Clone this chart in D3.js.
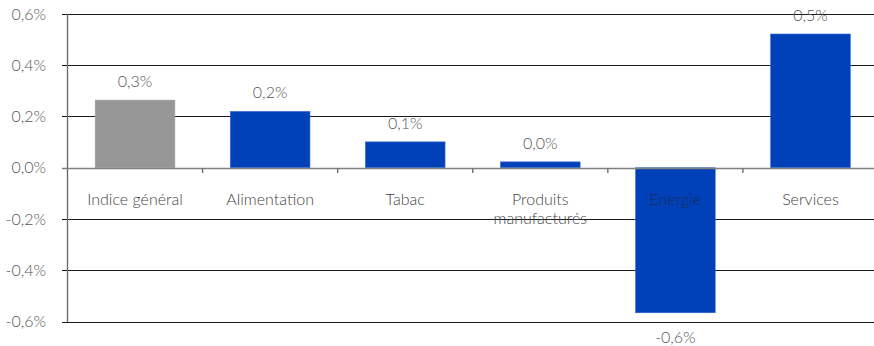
<!DOCTYPE html>
<html>
<head>
<meta charset="utf-8">
<script src="https://cdn.jsdelivr.net/npm/d3@7/dist/d3.min.js"></script>
<style>
  body { margin: 0; background: #fff; }
  svg text { font-family: "Lato", "DejaVu Sans", sans-serif; font-weight: 300; }
</style>
</head>
<body>
<svg id="chart" width="874" height="346"></svg>
<script>
// Contributions to monthly inflation by component (%)
const categories = ["Indice général", "Alimentation", "Tabac", "Produits\nmanufacturés", "Energie", "Services"];
const values = [0.264, 0.22, 0.101, 0.023, -0.566, 0.522];
const valueLabels = ["0,3%", "0,2%", "0,1%", "0,0%", "-0,6%", "0,5%"];
const yTicks = [-0.6, -0.4, -0.2, 0.0, 0.2, 0.4, 0.6];
const yTickLabels = ["-0,6%", "-0,4%", "-0,2%", "0,0%", "0,2%", "0,4%", "0,6%"];

const svg = d3.select("#chart");
const left = 67.5, right = 878;
const y = d3.scaleLinear().domain([-0.6, 0.6]).range([321.5, 14]);
const x = d3.scaleBand().domain(categories).range([left, right]).paddingInner(0.41).paddingOuter(0.205);

// Horizontal gridlines with short outer ticks
svg.append("g").selectAll("line").data(yTicks.filter(d => d !== 0)).join("line")
  .attr("x1", 62).attr("x2", 874)
  .attr("y1", d => Math.round(y(d)) + 0.5).attr("y2", d => Math.round(y(d)) + 0.5)
  .attr("stroke", "#1a1a1a").attr("stroke-width", 1);

// Y tick labels
svg.append("g").selectAll("text").data(yTicks).join("text")
  .attr("x", 46).attr("y", d => y(d))
  .attr("dy", "0.35em").attr("text-anchor", "end")
  .attr("font-size", 16).attr("fill", "#555")
  .text((d, i) => yTickLabels[i]);

// Bars
svg.append("g").selectAll("rect").data(values).join("rect")
  .attr("x", (d, i) => x(categories[i]))
  .attr("width", x.bandwidth())
  .attr("y", d => y(Math.max(0, d)))
  .attr("height", d => Math.abs(y(d) - y(0)))
  .attr("fill", (d, i) => i === 0 ? "#969696" : "#0041B9")
  .attr("stroke", (d, i) => i === 0 ? "#a0a0a0" : "#3b6fd4")
  .attr("stroke-width", 0.6);

// Y axis line
svg.append("line")
  .attr("x1", left).attr("x2", left).attr("y1", 14).attr("y2", 322)
  .attr("stroke", "#666").attr("stroke-width", 1.3);

// Zero line with category separators
const zeroY = Math.round(y(0)) + 0.5;
svg.append("line")
  .attr("x1", 62).attr("x2", 874).attr("y1", zeroY).attr("y2", zeroY)
  .attr("stroke", "#808080").attr("stroke-width", 1.5);
const step = x.step();
svg.append("g").selectAll("line").data(d3.range(1, categories.length)).join("line")
  .attr("x1", i => x(categories[i]) - x.paddingInner() * step / 2)
  .attr("x2", i => x(categories[i]) - x.paddingInner() * step / 2)
  .attr("y1", zeroY).attr("y2", zeroY + 4.5)
  .attr("stroke", "#666").attr("stroke-width", 1.3);

// Category labels below the zero line
const catG = svg.append("g");
categories.forEach((c, i) => {
  const t = catG.append("text")
    .attr("x", x(c) + x.bandwidth() / 2).attr("y", 205)
    .attr("text-anchor", "middle").attr("font-size", 16)
    .attr("fill", i === 4 ? "#1c2a55" : "#444");
  c.split("\n").forEach((line, j) => {
    t.append("tspan").attr("x", x(c) + x.bandwidth() / 2).attr("dy", j === 0 ? 0 : 19).text(line);
  });
});

// Value labels
svg.append("g").selectAll("text").data(values).join("text")
  .attr("x", (d, i) => x(categories[i]) + x.bandwidth() / 2)
  .attr("y", d => d >= 0 ? y(d) - 13 : y(d) + 30)
  .attr("text-anchor", "middle").attr("font-size", 16).attr("fill", "#555")
  .text((d, i) => valueLabels[i]);
</script>
</body>
</html>
